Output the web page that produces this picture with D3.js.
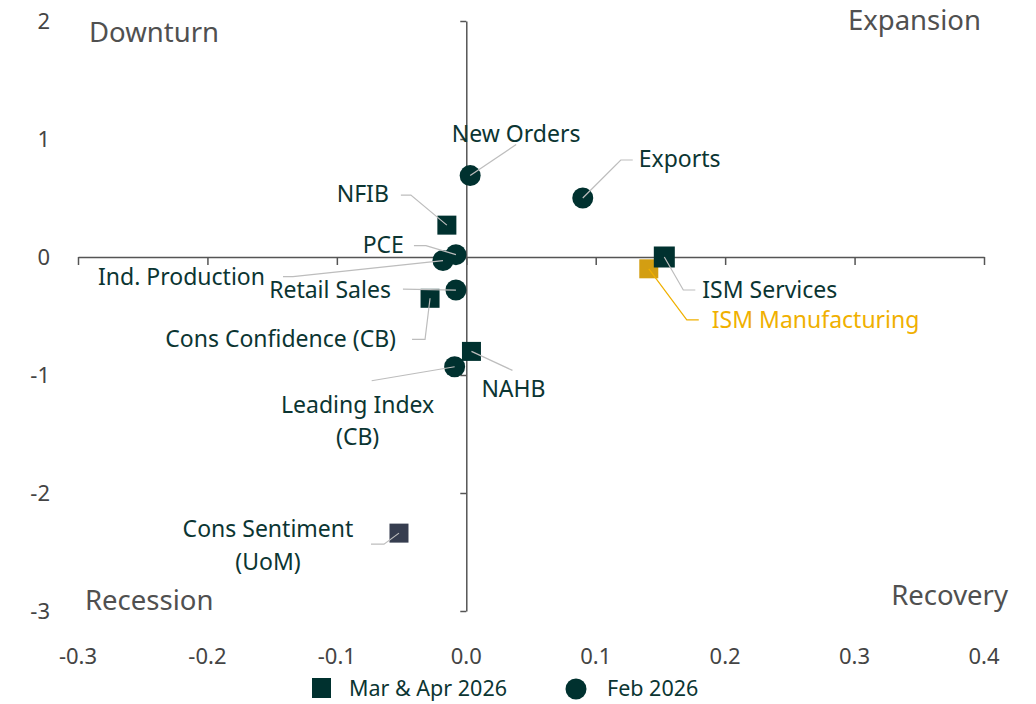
<!DOCTYPE html>
<html>
<head>
<meta charset="utf-8">
<script src="https://cdn.jsdelivr.net/npm/d3@7"></script>
<style>
  body { margin: 0; background: #fff; }
  svg text { font-family: "Noto Sans", sans-serif; }
</style>
</head>
<body>
<svg id="chart" width="1036" height="704"></svg>
<script>
// indicator names, x = momentum change, y = level (z-score)
var names = ["New Orders", "Exports", "NFIB", "PCE", "Ind. Production", "Retail Sales",
    "Cons Confidence (CB)", "NAHB", "Leading Index (CB)", "ISM Manufacturing", "ISM Services",
    "Cons Sentiment (UoM)"];
var xValues = [0.003, 0.090, -0.015, -0.008, -0.018, -0.008, -0.028, 0.004, -0.009, 0.141, 0.153, -0.052];
var yValues = [0.69, 0.50, 0.27, 0.02, -0.03, -0.28, -0.35, -0.80, -0.93, -0.10, 0.00, -2.34];
var period = ["Feb 2026", "Feb 2026", "Mar & Apr 2026", "Feb 2026", "Feb 2026", "Feb 2026",
    "Mar & Apr 2026", "Mar & Apr 2026", "Feb 2026", "Mar & Apr 2026", "Mar & Apr 2026",
    "Mar & Apr 2026"];
var xTicks = [-0.3, -0.2, -0.1, 0.0, 0.1, 0.2, 0.3, 0.4];
var yTicks = [2, 1, 0, -1, -2, -3];
var quadrants = ["Downturn", "Expansion", "Recession", "Recovery"];
var legendItems = ["Mar & Apr 2026", "Feb 2026"];

var colors = { dark: "#00312f", gold: "#d39e12", goldText: "#f0b000", slate: "#363d4f",
    text: "#0b3532", axis: "#555", leader: "#bdbdbd", quad: "#505050" };

// label layout, pixel offsets from the marker centre
var labelLayout = {
    "New Orders":           { path: [[46, -31]], text: [[46, -42]], anchor: "middle" },
    "Exports":              { path: [[38, -38], [50, -38]], text: [[56, -39]], anchor: "start" },
    "NFIB":                 { path: [[-36, -30], [-46, -30]], text: [[-58, -31]], anchor: "end" },
    "PCE":                  { path: [[-30, -9], [-42, -9]], text: [[-52, -10]], anchor: "end" },
    "Ind. Production":      { path: [[-150, 16], [-160, 16]], text: [[-178, 16]], anchor: "end" },
    "Retail Sales":         { path: [[-53, -1]], text: [[-65, 0]], anchor: "end" },
    "Cons Confidence (CB)": { path: [[-5, 41], [-18, 41]], text: [[-34, 41]], anchor: "end" },
    "NAHB":                 { path: [[41, 19]], text: [[42, 38]], anchor: "middle" },
    "Leading Index (CB)":   { path: [[-83, 14]], text: [[-97, 38], [-97, 70]], anchor: "middle",
                              lines: ["Leading Index", "(CB)"] },
    "ISM Services":         { path: [[19, 33], [31, 33]], text: [[38, 33]], anchor: "start" },
    "ISM Manufacturing":    { path: [[38, 51], [50, 51]], text: [[63, 51]], anchor: "start", gold: true },
    "Cons Sentiment (UoM)": { path: [[-15, 11], [-28, 11]], text: [[-131, -4], [-131, 29]], anchor: "middle",
                              lines: ["Cons Sentiment", "(UoM)"] }
};

var data = names.map(function(n, i) {
    return { name: n, x: xValues[i], y: yValues[i], period: period[i] };
});

var svg = d3.select("#chart");
var xScale = d3.scaleLinear().domain([-0.3, 0.4]).range([78, 984]);
var yScale = d3.scaleLinear().domain([-3, 2]).range([611, 21]);
var hyphen = s => s.replace("\u2212", "-");

function markerColor(d) {
    if (d.name == "ISM Manufacturing") return colors.gold;
    if (d.name == "Cons Sentiment (UoM)") return colors.slate;
    return colors.dark;
}

// axes crossing at the origin
var xAxis = d3.axisBottom(xScale).tickValues(xTicks).tickSize(8).tickSizeOuter(0).tickFormat("");
var yAxis = d3.axisLeft(yScale).tickValues(yTicks).tickSize(6).tickSizeOuter(0).tickFormat("");

svg.append("g").attr("class", "axis")
    .attr("transform", "translate(" + [0, yScale(0)] + ")")
    .call(xAxis);
svg.append("g").attr("class", "axis")
    .attr("transform", "translate(" + [xScale(0), 0] + ")")
    .call(yAxis);
svg.selectAll(".axis path, .axis line")
    .attr("stroke", colors.axis)
    .attr("stroke-width", 1.5);

// tick labels at the edges of the plot
svg.selectAll(".xlab").data(xTicks).enter().append("text")
    .attr("class", "xlab")
    .attr("x", d => xScale(d))
    .attr("y", 664)
    .attr("text-anchor", "middle")
    .attr("font-size", 22)
    .attr("fill", "#444")
    .text(d => hyphen(d3.format(".1f")(d)));

svg.selectAll(".ylab").data(yTicks).enter().append("text")
    .attr("class", "ylab")
    .attr("x", 50)
    .attr("y", d => yScale(d))
    .attr("dy", "0.35em")
    .attr("text-anchor", "end")
    .attr("font-size", 22)
    .attr("fill", "#444")
    .text(d => hyphen(String(d)));

// quadrant names
var quadPos = [
    { x: 89, y: 42, anchor: "start" },
    { x: 981, y: 30, anchor: "end" },
    { x: 85, y: 610, anchor: "start" },
    { x: 1008, y: 605, anchor: "end" }
];
svg.selectAll(".quad").data(quadrants).enter().append("text")
    .attr("class", "quad")
    .attr("x", (d, i) => quadPos[i].x)
    .attr("y", (d, i) => quadPos[i].y)
    .attr("text-anchor", (d, i) => quadPos[i].anchor)
    .attr("font-size", 27.5)
    .attr("fill", colors.quad)
    .text(d => d);

// markers
var pts = svg.append("g");
var drawOrder = data.slice().sort((a, b) => {
    var ka = a.name == "ISM Services" ? 1 : 0;
    var kb = b.name == "ISM Services" ? 1 : 0;
    return ka - kb;
});
drawOrder.forEach(function(d) {
    var cx = xScale(d.x), cy = yScale(d.y);
    if (d.period == "Feb 2026") {
        pts.append("circle")
            .attr("cx", cx).attr("cy", cy).attr("r", 10.5)
            .attr("fill", markerColor(d));
    } else {
        var s = d.name == "ISM Services" ? 21 : 19;
        pts.append("rect")
            .attr("x", cx - s / 2).attr("y", cy - s / 2)
            .attr("width", s).attr("height", s)
            .attr("fill", markerColor(d));
    }
});

// leader lines and labels
var line = d3.line();
data.forEach(function(d) {
    var lay = labelLayout[d.name];
    var cx = xScale(d.x), cy = yScale(d.y);
    var p = [[cx, cy]].concat(lay.path.map(o => [cx + o[0], cy + o[1]]));
    svg.append("path")
        .attr("d", line(p))
        .attr("fill", "none")
        .attr("stroke", lay.gold ? colors.goldText : colors.leader)
        .attr("stroke-width", 1.2);
    var lines = lay.lines || [d.name];
    lines.forEach(function(t, i) {
        svg.append("text")
            .attr("x", cx + lay.text[i][0])
            .attr("y", cy + lay.text[i][1])
            .attr("dy", "0.35em")
            .attr("text-anchor", lay.anchor)
            .attr("font-size", 23)
            .attr("fill", lay.gold ? colors.goldText : colors.text)
            .text(t);
    });
});

// legend
var legend = svg.append("g").attr("transform", "translate(0, 688)");
legend.append("rect")
    .attr("x", 312).attr("y", -10).attr("width", 19).attr("height", 20)
    .attr("fill", colors.dark);
legend.append("text")
    .attr("x", 349).attr("y", 0).attr("dy", "0.35em")
    .attr("font-size", 21.5).attr("fill", colors.text)
    .text(legendItems[0]);
legend.append("circle")
    .attr("cx", 576).attr("cy", 1).attr("r", 10.5)
    .attr("fill", colors.dark);
legend.append("text")
    .attr("x", 607).attr("y", 0).attr("dy", "0.35em")
    .attr("font-size", 21.5).attr("fill", colors.text)
    .text(legendItems[1]);
</script>
</body>
</html>
